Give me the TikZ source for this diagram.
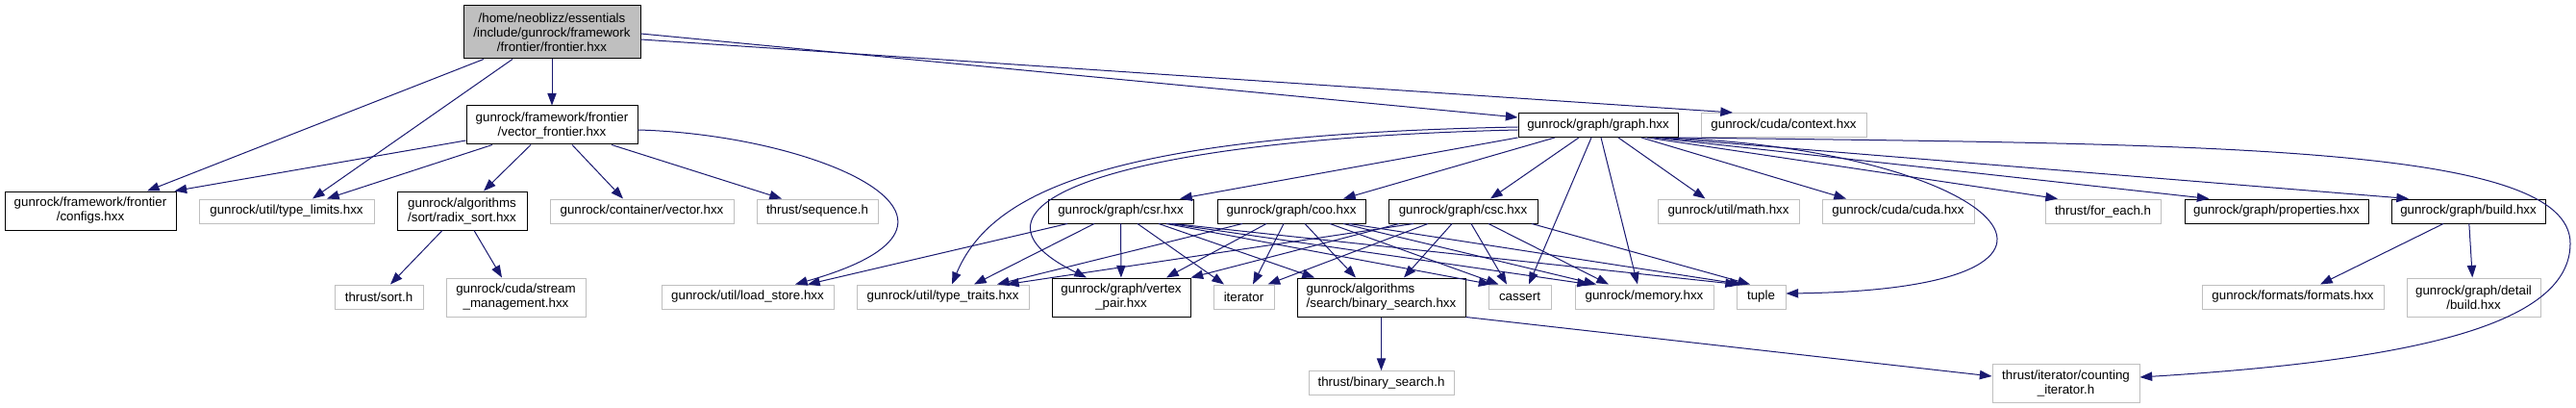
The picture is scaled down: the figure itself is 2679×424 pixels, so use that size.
\documentclass[tikz,border=0pt]{standalone}
\usepackage{fontspec}
\setmainfont{Liberation Sans}
\usetikzlibrary{arrows.meta}
\definecolor{edgeblue}{HTML}{191970}
\definecolor{boxgrey}{HTML}{BFBFBF}
\begin{document}
\begin{tikzpicture}[x=0.75pt,y=-0.75pt,
  every node/.style={inner sep=0pt,align=center,line width=0.75pt,
    minimum height=18.75pt,font=\fontsize{10}{11.25}\selectfont},
  inc/.style={draw=black},
  ext/.style={draw=boxgrey},
  tall/.style={minimum height=30pt},
  dep/.style={-{Triangle[length=9.5pt,width=7pt]},draw=edgeblue,line width=0.75pt}]
\useasboundingbox (0,0) rectangle (2679,424);
\node[inc,fill=boxgrey,minimum width=138pt,minimum height=41.25pt] (main) at (574,33.5)
  {/home/neoblizz/essentials\\/include/gunrock/framework\\/frontier/frontier.hxx};
\node[inc,tall,minimum width=133.5pt] (vecf) at (574,130)
  {gunrock/framework/frontier\\/vector\_frontier.hxx};
\node[inc,tall,minimum width=133.5pt] (configs) at (94,219)
  {gunrock/framework/frontier\\/configs.hxx};
\node[ext,minimum width=136.5pt] (tlim) at (298,219.5) {gunrock/util/type\_limits.hxx};
\node[inc,tall,minimum width=101.25pt] (radix) at (480.5,219)
  {gunrock/algorithms\\/sort/radix\_sort.hxx};
\node[ext,minimum width=143.25pt] (cvec) at (667.5,219.5) {gunrock/container/vector.hxx};
\node[ext,minimum width=94.5pt] (seq) at (850,219.5) {thrust/sequence.h};
\node[ext,minimum width=69pt] (sorth) at (394,308.5) {thrust/sort.h};
\node[ext,tall,minimum width=108.75pt] (stream) at (536.5,309)
  {gunrock/cuda/stream\\\_management.hxx};
\node[ext,minimum width=134.25pt] (lds) at (777.5,308.5) {gunrock/util/load\_store.hxx};
\node[inc,minimum width=124.5pt] (graph) at (1662,130) {gunrock/graph/graph.hxx};
\node[ext,minimum width=129pt] (context) at (1855,130) {gunrock/cuda/context.hxx};
\node[inc,minimum width=113.25pt] (csr) at (1165.5,219.5) {gunrock/graph/csr.hxx};
\node[inc,minimum width=115.5pt] (coo) at (1343,219.5) {gunrock/graph/coo.hxx};
\node[inc,minimum width=116.25pt] (csc) at (1521.5,219.5) {gunrock/graph/csc.hxx};
\node[ext,minimum width=110.25pt] (math) at (1797.5,219.5) {gunrock/util/math.hxx};
\node[ext,minimum width=118.5pt] (cuda) at (1974,219.5) {gunrock/cuda/cuda.hxx};
\node[ext,minimum width=90pt] (foreach) at (2187,219.5) {thrust/for\_each.h};
\node[inc,minimum width=143.25pt] (props) at (2367.5,219.5) {gunrock/graph/properties.hxx};
\node[inc,minimum width=120pt] (build) at (2567,219.5) {gunrock/graph/build.hxx};
\node[ext,minimum width=134.25pt] (ttraits) at (980.5,308.5) {gunrock/util/type\_traits.hxx};
\node[inc,tall,minimum width=108pt] (vpair) at (1166,309)
  {gunrock/graph/vertex\\\_pair.hxx};
\node[ext,minimum width=47.25pt] (iter) at (1293.5,308.5) {iterator};
\node[inc,tall,minimum width=131.25pt,align=left] (bsearch) at (1436.5,309)
  {gunrock/algorithms\\/search/binary\_search.hxx};
\node[ext,minimum width=48.75pt] (cassert) at (1580.5,308.5) {cassert};
\node[ext,minimum width=108pt] (memory) at (1710,308.5) {gunrock/memory.hxx};
\node[ext,minimum width=38.25pt] (tuple) at (1831.5,308.5) {tuple};
\node[ext,minimum width=141.75pt] (formats) at (2384.5,308.5) {gunrock/formats/formats.hxx};
\node[ext,tall,minimum width=104.25pt] (dbuild) at (2572.5,309)
  {gunrock/graph/detail\\/build.hxx};
\node[ext,minimum width=113.25pt] (tbsearch) at (1436.5,398) {thrust/binary\_search.h};
\node[ext,tall,minimum width=114.75pt] (citer) at (2148.5,398)
  {thrust/iterator/counting\\\_iterator.h};
% frontier.hxx
\draw[dep] ([shift={(-71,0)}]main.south) -- ([shift={(59,0)}]configs.north);
\draw[dep] ([shift={(-41,0)}]main.south) -- ([shift={(27,0)}]tlim.north);
\draw[dep] (main) -- (vecf);
\draw[dep] ([shift={(0,1.5)}]main.east) -- ([shift={(0,-8)}]graph.west);
\draw[dep] ([shift={(0,7.5)}]main.east) -- ([shift={(-53,0)}]context.north);
% vector_frontier.hxx
\draw[dep] ([shift={(0,16)}]vecf.west) -- ([shift={(-2,0)}]configs.north east);
\draw[dep] ([shift={(-62,0)}]vecf.south) -- ([shift={(42,0)}]tlim.north);
\draw[dep] ([shift={(-22,0)}]vecf.south) -- ([shift={(22.5,0)}]radix.north);
\draw[dep] ([shift={(21,0)}]vecf.south) -- ([shift={(-19.5,0)}]cvec.north);
\draw[dep] ([shift={(62,0)}]vecf.south) -- ([shift={(-37,0)}]seq.north);
\draw[dep] ([shift={(0,5)}]vecf.east) .. controls (850,140) and (1060,230) .. ([shift={(49.5,0)}]lds.north);
% radix_sort.hxx
\draw[dep] ([shift={(-20.5,0)}]radix.south) -- ([shift={(12,0)}]sorth.north);
\draw[dep] ([shift={(12.5,0)}]radix.south) -- ([shift={(-14.5,0)}]stream.north);
% graph.hxx
\draw[dep] (graph.south west) -- ([shift={(61.5,0)}]csr.north);
\draw[dep] ([shift={(-45,0)}]graph.south) -- ([shift={(54,0)}]coo.north);
\draw[dep] ([shift={(-20,0)}]graph.south) -- ([shift={(28.5,0)}]csc.north);
\draw[dep] ([shift={(0,2)}]graph.west) .. controls (1150,140) and (1030,200) .. ([shift={(9.5,0)}]ttraits.north);
\draw[dep] ([shift={(0,5)}]graph.west) .. controls (1150,145) and (980,215) .. ([shift={(-36,0)}]vpair.north);
\draw[dep] ([shift={(-7,0)}]graph.south) -- ([shift={(9.5,0)}]cassert.north);
\draw[dep] ([shift={(3,0)}]graph.south) -- ([shift={(-7,0)}]memory.north);
\draw[dep] ([shift={(21,0)}]graph.south) -- ([shift={(-24,0)}]math.north);
\draw[dep] ([shift={(45,0)}]graph.south) -- ([shift={(-54,0)}]cuda.north);
\draw[dep] ([shift={(51,0)}]graph.south) -- ([shift={(-47,0)}]foreach.north);
\draw[dep] ([shift={(58,0)}]graph.south) -- ([shift={(-70,0)}]props.north);
\draw[dep] ([shift={(63,0)}]graph.south) -- ([shift={(-62,0)}]build.north);
\draw[dep] ([shift={(68,0)}]graph.south) .. controls (2080,155) and (2230,300) .. ([shift={(0,-3.5)}]tuple.east);
\draw[dep] (graph.south east) .. controls (2300,150) and (2673,150) .. (2673,253)
  .. controls (2673,340) and (2500,375) .. ([shift={(0,-6)}]citer.east);
% csr.hxx
\draw[dep] ([shift={(-55.5,0)}]csr.south) -- ([shift={(62.5,0)}]lds.north);
\draw[dep] ([shift={(-27.5,0)}]csr.south) -- ([shift={(32.5,0)}]ttraits.north);
\draw[dep] (csr) -- (vpair);
\draw[dep] ([shift={(17.5,0)}]csr.south) -- ([shift={(-20.5,0)}]iter.north);
\draw[dep] ([shift={(39.5,0)}]csr.south) -- ([shift={(-69.5,0)}]bsearch.north);
\draw[dep] ([shift={(47.5,0)}]csr.south) -- ([shift={(-30,0)}]cassert.north);
\draw[dep] ([shift={(51.5,0)}]csr.south) -- ([shift={(-57,0)}]memory.north);
\draw[dep] ([shift={(54.5,0)}]csr.south) -- ([shift={(-24.5,0)}]tuple.north);
% coo.hxx
\draw[dep] ([shift={(-51,0)}]coo.south) -- ([shift={(56.5,0)}]ttraits.north);
\draw[dep] ([shift={(-26,0)}]coo.south) -- ([shift={(47,0)}]vpair.north);
\draw[dep] ([shift={(-8,0)}]coo.south) -- ([shift={(9.5,0)}]iter.north);
\draw[dep] ([shift={(14,0)}]coo.south) -- ([shift={(-26.5,0)}]bsearch.north);
\draw[dep] ([shift={(40,0)}]coo.south) -- ([shift={(-22,0)}]cassert.north);
\draw[dep] ([shift={(54,0)}]coo.south) -- ([shift={(-50,0)}]memory.north);
\draw[dep] ([shift={(60,0)}]coo.south) -- ([shift={(-20,0)}]tuple.north);
% csc.hxx
\draw[dep] ([shift={(-51.5,0)}]csc.south) -- ([shift={(66.5,0)}]ttraits.north);
\draw[dep] ([shift={(-66.5,0)}]csc.south) -- (vpair.north east);
\draw[dep] ([shift={(-36.5,0)}]csc.south) -- ([shift={(25,0)}]iter.north);
\draw[dep] ([shift={(-11.5,0)}]csc.south) -- ([shift={(23.5,0)}]bsearch.north);
\draw[dep] ([shift={(8.5,0)}]csc.south) -- ([shift={(-13.5,0)}]cassert.north);
\draw[dep] ([shift={(26.5,0)}]csc.south) -- ([shift={(-37,0)}]memory.north);
\draw[dep] ([shift={(71.5,0)}]csc.south) -- ([shift={(-11.5,0)}]tuple.north);
% binary_search.hxx
\draw[dep] (bsearch) -- (tbsearch);
\draw[dep] (bsearch.south east) -- ([shift={(0,-7)}]citer.west);
% build.hxx
\draw[dep] ([shift={(-26,0)}]build.south) -- ([shift={(28.5,0)}]formats.north);
\draw[dep] (build) -- (dbuild);
\end{tikzpicture}
\end{document}
